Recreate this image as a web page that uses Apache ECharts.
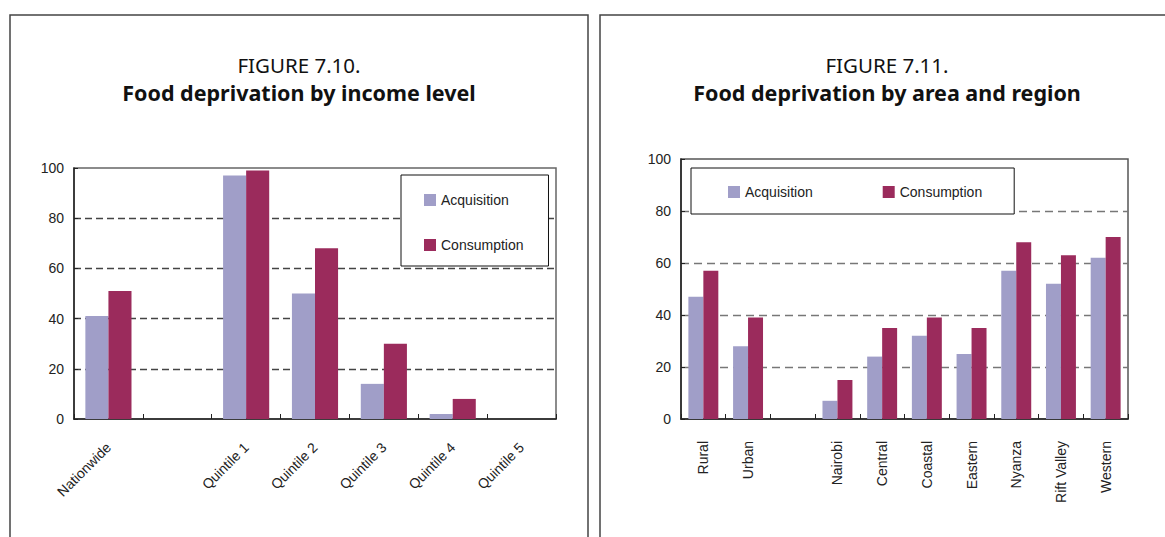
<!DOCTYPE html>
<html>
<head>
<meta charset="utf-8">
<style>
  html, body { margin: 0; padding: 0; background: #fff; }
  #chart { width: 1165px; height: 537px; }
</style>
<script src="https://cdn.jsdelivr.net/npm/echarts@6/dist/echarts.min.js"></script>
</head>
<body>
<div id="chart"></div>
<script>
// Figure 7.10: food deprivation by income level (percent)
const incomeCategories = ['Nationwide', '', 'Quintile 1', 'Quintile 2', 'Quintile 3', 'Quintile 4', 'Quintile 5'];
const incomeAcquisition = [41, null, 97, 50, 14, 2, 0];
const incomeConsumption = [51, null, 99, 68, 30, 8, 0];

// Figure 7.11: food deprivation by area and region (percent)
const regionCategories = ['Rural', 'Urban', '', 'Nairobi', 'Central', 'Coastal', 'Eastern', 'Nyanza', 'Rift Valley', 'Western'];
const regionAcquisition = [47, 28, null, 7, 24, 32, 25, 57, 52, 62];
const regionConsumption = [57, 39, null, 15, 35, 39, 35, 68, 63, 70];

const seriesNames = ['Acquisition', 'Consumption'];
const seriesColors = ['#A09EC8', '#9B2B5C'];

const figureLabels = ['FIGURE 7.10.', 'FIGURE 7.11.'];
const figureTitles = ['Food deprivation by income level', 'Food deprivation by area and region'];

const axisFont = "'Liberation Sans', Arial, sans-serif";
const titleFont = "'Noto Sans', sans-serif";

function valueAxis(gridIndex, gridColor, dash) {
  return {
    type: 'value', gridIndex: gridIndex, min: 0, max: 100, interval: 20,
    axisLine: { show: true, lineStyle: { color: '#222', width: 1.5 } },
    axisTick: { show: true, inside: true, length: 4, lineStyle: { color: '#222' } },
    axisLabel: { color: '#222', fontSize: 14, fontFamily: axisFont, margin: 10 },
    splitLine: {
      show: true,
      lineStyle: {
        // no dashed line at 0 or 100: those are the frame
        color: ['rgba(0,0,0,0)', gridColor, gridColor, gridColor, gridColor, 'rgba(0,0,0,0)'],
        type: dash, width: 1.3
      }
    }
  };
}

function categoryAxis(gridIndex, data, rotate, margin) {
  return {
    type: 'category', gridIndex: gridIndex, data: data,
    axisLine: { show: true, lineStyle: { color: '#222', width: 1.5 } },
    axisTick: { show: true, inside: true, length: 5, alignWithLabel: false, interval: 0, lineStyle: { color: '#222' } },
    axisLabel: { interval: 0, rotate: rotate, margin: margin, color: '#222', fontSize: 14, fontFamily: axisFont, hideOverlap: false },
    splitLine: { show: false }
  };
}

function barSeries(name, idx, data, color) {
  return {
    type: 'bar', name: name, xAxisIndex: idx, yAxisIndex: idx, data: data,
    itemStyle: { color: color },
    barGap: '0%', barCategoryGap: '33%',
    emphasis: { disabled: true }, animation: false
  };
}

const legendCommon = {
  data: seriesNames, icon: 'rect', itemWidth: 12, itemHeight: 12,
  selectedMode: false, backgroundColor: '#fff', borderColor: '#111', borderWidth: 1,
  textStyle: { color: '#222', fontSize: 14, fontFamily: axisFont }
};

const chart = echarts.init(document.getElementById('chart'), null, { renderer: 'svg' });

chart.setOption({
  backgroundColor: '#fff',
  animation: false,
  color: seriesColors,
  graphic: [
    // panel frames (open at the bottom)
    { type: 'rect', shape: { x: 10, y: 15, width: 578, height: 560 }, style: { fill: 'none', stroke: '#444', lineWidth: 1.5 }, silent: true, z: -10 },
    { type: 'rect', shape: { x: 600, y: 15, width: 600, height: 560 }, style: { fill: 'none', stroke: '#444', lineWidth: 1.5 }, silent: true, z: -10 },
    { type: 'text', x: 299, y: 65, style: { text: figureLabels[0], fill: '#111', font: "20.5px " + titleFont, textAlign: 'center', textVerticalAlign: 'middle' } },
    { type: 'text', x: 299, y: 92, style: { text: figureTitles[0], fill: '#111', font: "bold 21.5px " + titleFont, textAlign: 'center', textVerticalAlign: 'middle' } },
    { type: 'text', x: 887, y: 65, style: { text: figureLabels[1], fill: '#111', font: "20.5px " + titleFont, textAlign: 'center', textVerticalAlign: 'middle' } },
    { type: 'text', x: 887, y: 92, style: { text: figureTitles[1], fill: '#111', font: "bold 21.5px " + titleFont, textAlign: 'center', textVerticalAlign: 'middle' } }
  ],
  grid: [
    { left: 74, top: 168, width: 482, height: 251, show: true, borderColor: '#666', borderWidth: 1.5, backgroundColor: 'rgba(0,0,0,0)' },
    { left: 681, top: 159, width: 447, height: 260, show: true, borderColor: '#555', borderWidth: 1.5, backgroundColor: 'rgba(0,0,0,0)' }
  ],
  legend: [
    Object.assign({}, legendCommon, { orient: 'vertical', left: 401, top: 175, itemGap: 31, padding: [18, 25, 14, 23] }),
    Object.assign({}, legendCommon, { orient: 'horizontal', left: 691, top: 168, itemGap: 70, padding: [17, 32, 15, 37] })
  ],
  xAxis: [
    categoryAxis(0, incomeCategories, 45, 26),
    categoryAxis(1, regionCategories, 90, 22)
  ],
  yAxis: [
    valueAxis(0, '#444', [7, 4]),
    valueAxis(1, '#777', [8, 5])
  ],
  series: [
    barSeries(seriesNames[0], 0, incomeAcquisition, seriesColors[0]),
    barSeries(seriesNames[1], 0, incomeConsumption, seriesColors[1]),
    barSeries(seriesNames[0], 1, regionAcquisition, seriesColors[0]),
    barSeries(seriesNames[1], 1, regionConsumption, seriesColors[1])
  ]
});
</script>
</body>
</html>
